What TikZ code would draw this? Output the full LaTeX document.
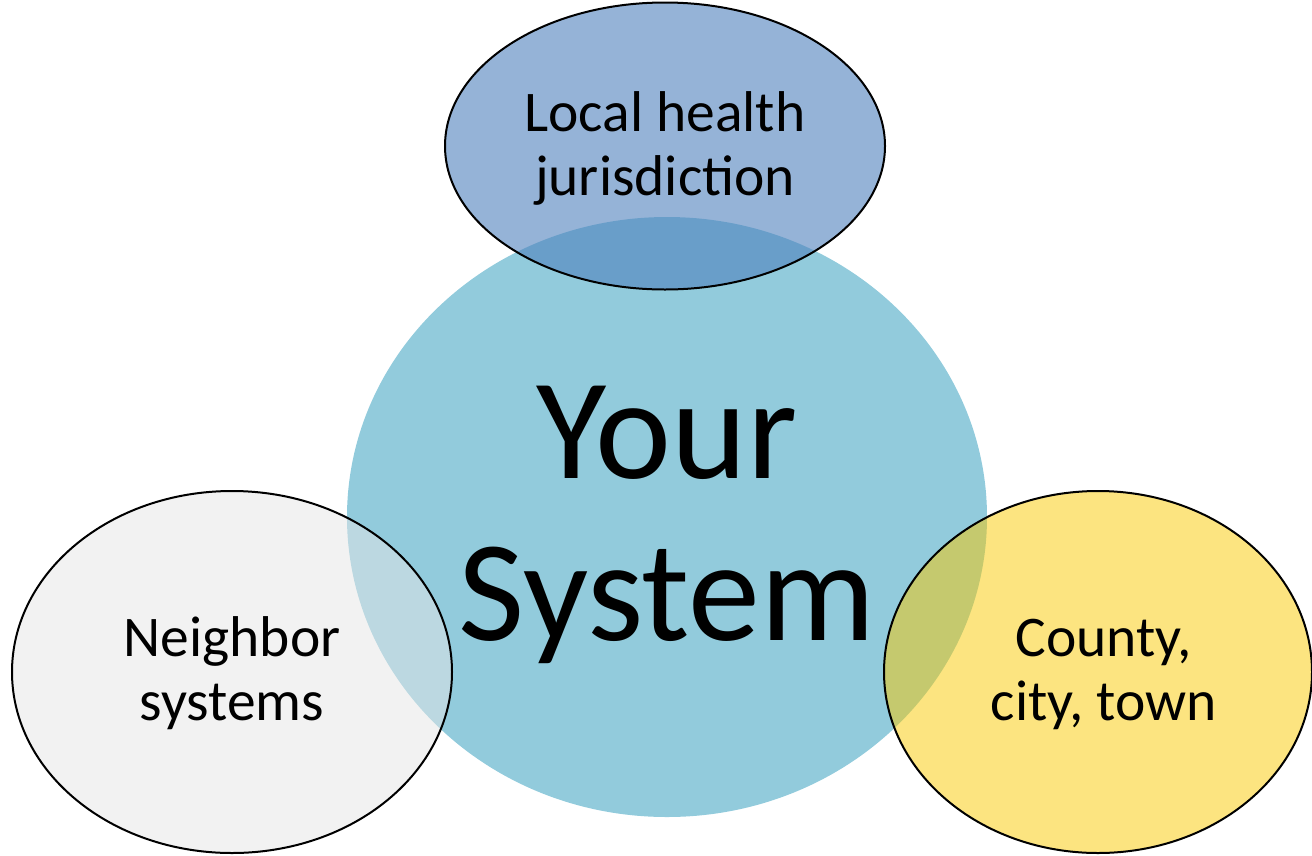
\documentclass[tikz,border=0pt]{standalone}
\usepackage{fontspec}
\setmainfont{Carlito}
\usetikzlibrary{shapes.geometric}
\definecolor{sysblue}{RGB}{146,203,220}
\definecolor{lhjblue}{RGB}{79,129,189}
\definecolor{nbgray}{RGB}{230,230,230}
\definecolor{ctyellow}{RGB}{249,201,1}
\tikzset{
  blob/.style={ellipse, inner sep=0pt, outer sep=0pt},
  ring/.style={blob, draw=black, line width=2pt},
  lbl/.style={anchor=base, align=center, inner sep=0pt, text=black},
  small/.style={font=\fontsize{57.5}{63.5}\selectfont},
}
\begin{document}
\begin{tikzpicture}[x=1pt,y=-1pt]
\useasboundingbox (0,0) rectangle (1312,855);
% main circle
\node[blob, fill=sysblue, minimum width=640pt, minimum height=600pt] (sys) at (667,517) {};
% satellites
\node[ring, fill=lhjblue, fill opacity=0.6, minimum width=440pt, minimum height=287pt] (lhj) at (665,146) {};
\node[ring, fill=nbgray, fill opacity=0.5, minimum width=440pt, minimum height=362pt] (nb) at (232,672) {};
\node[ring, fill=ctyellow, fill opacity=0.5, minimum width=428pt, minimum height=362pt] (cty) at (1098,672) {};
% labels (anchor = baseline of the last line)
\node[lbl, font=\fontsize{144}{162}\selectfont] (syst) at (667,640) {Your\\System};
\node[lbl, small] (lhjt) at (665,195) {Local health\\jurisdiction};
\node[lbl, small] (nbt) at (232,720) {Neighbor\\systems};
\node[lbl, small] (ctyt) at (1104,720) {County,\\city, town};
\end{tikzpicture}
\end{document}
